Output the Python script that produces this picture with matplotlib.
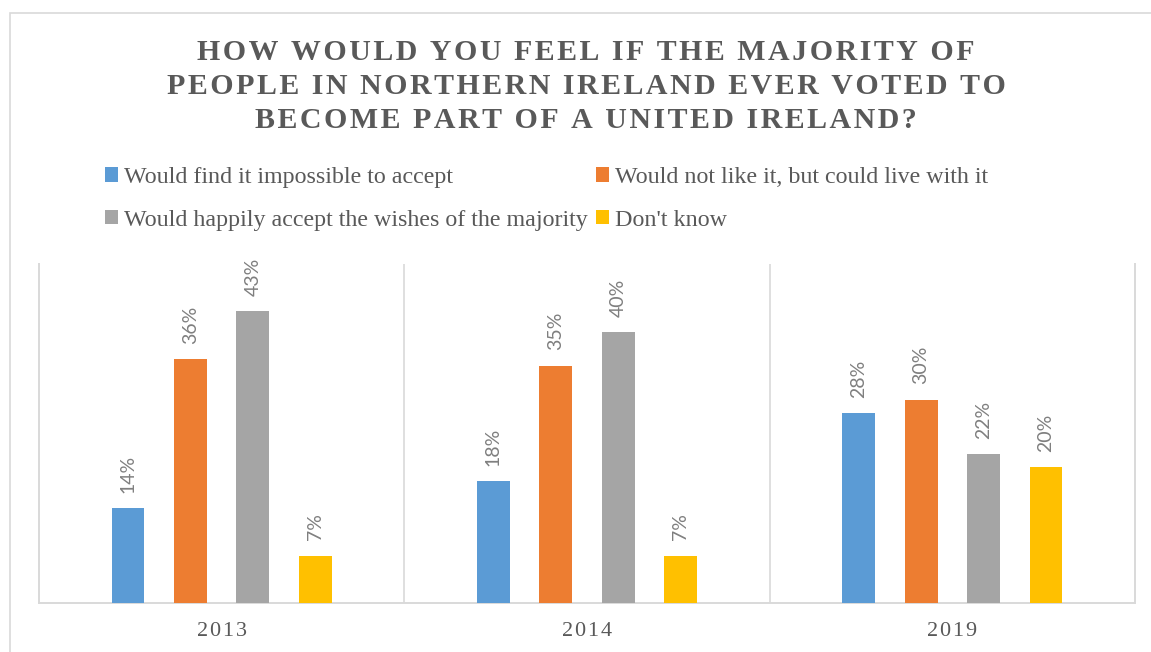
import matplotlib
matplotlib.use("Agg")
import matplotlib.pyplot as plt
from matplotlib.patches import Patch, Rectangle
import numpy as np

# ---- data -------------------------------------------------------------
years = ["2013", "2014", "2019"]
series_names = [
    "Would find it impossible to accept",
    "Would not like it, but could live with it",
    "Would happily accept the wishes of the majority",
    "Don't know",
]
impossible = [14, 18, 28]
not_like_it = [36, 35, 30]
happily_accept = [43, 40, 22]
dont_know = [7, 7, 20]
colors = ["#5B9BD5", "#ED7D31", "#A5A5A5", "#FFC000"]
title_lines = [
    "HOW WOULD YOU FEEL IF THE MAJORITY OF",
    "PEOPLE IN NORTHERN IRELAND EVER VOTED TO",
    "BECOME PART OF A UNITED IRELAND?",
]

series = [impossible, not_like_it, happily_accept, dont_know]

# ---- figure -----------------------------------------------------------
W, H = 1151, 652
fig = plt.figure(figsize=(W / 100, H / 100), dpi=100)
fig.patch.set_facecolor("white")

SERIF = ["Liberation Serif", "DejaVu Serif"]
TEXT_GREY = "#595959"
LINE_GREY = "#d9d9d9"


def spaced(s, sep="\u200a"):
    """Open up the tracking of a string with hair spaces."""
    return sep.join(s)


# chart-area border
fig.add_artist(Rectangle((10 / W, -0.2), 1.5, (1 - 13 / H) + 0.2,
                         transform=fig.transFigure, fill=False,
                         edgecolor=LINE_GREY, linewidth=1.2))

# title
for line, base in zip(title_lines, [60, 94.5, 128.5]):
    fig.text(586 / W, 1 - base / H, spaced(line), ha="center", va="baseline",
             fontsize=21.5, fontweight="bold", color=TEXT_GREY, family=SERIF)

# plot area
ax = fig.add_axes([39 / W, 1 - 603 / H, (1135 - 39) / W, (603 - 264) / H])
x = np.arange(len(years))
slot, bar_w = 0.171, 0.09
handles = []
for i, (vals, name, color) in enumerate(zip(series, series_names, colors)):
    bars = ax.bar(x + (i - 1.5) * slot, vals, width=bar_w, color=color,
                  label=name, zorder=3)
    handles.append(Patch(facecolor=color, label=name))
    for rect, v in zip(bars, vals):
        ax.annotate(f"{v}%", (rect.get_x() + rect.get_width() / 2, v),
                    xytext=(0, 11), textcoords="offset points",
                    rotation=90, ha="center", va="bottom",
                    fontsize=14, family="Lato", color="#7f7f7f")

ax.set_xlim(-0.5, len(years) - 0.5)
ax.set_ylim(0, 50)
ax.set_yticks([])
ax.set_xticks(x)
ax.set_xticklabels([spaced(y) for y in years], family=SERIF, fontsize=16,
                   color=TEXT_GREY)
ax.tick_params(axis="x", length=0, pad=14)
for xv in np.arange(0.5, len(years) - 0.5, 1.0):
    ax.axvline(xv, color=LINE_GREY, linewidth=1.2, zorder=1)
ax.spines["top"].set_visible(False)
for side in ("left", "right", "bottom"):
    ax.spines[side].set_color(LINE_GREY)
    ax.spines[side].set_linewidth(1.4)

# legend, filled row by row
order = [0, 2, 1, 3]
leg = fig.legend([handles[k] for k in order], [series_names[k] for k in order],
                 ncol=2, loc="upper left", bbox_to_anchor=(105 / W, 1 - 167 / H),
                 frameon=False, borderpad=0, borderaxespad=0,
                 handlelength=0.55, handleheight=0.55, handletextpad=0.25,
                 columnspacing=0.33, labelspacing=0.9,
                 prop={"family": SERIF, "size": 17.3})
for t in leg.get_texts():
    t.set_color(TEXT_GREY)

fig.savefig("out.png", dpi=100)
